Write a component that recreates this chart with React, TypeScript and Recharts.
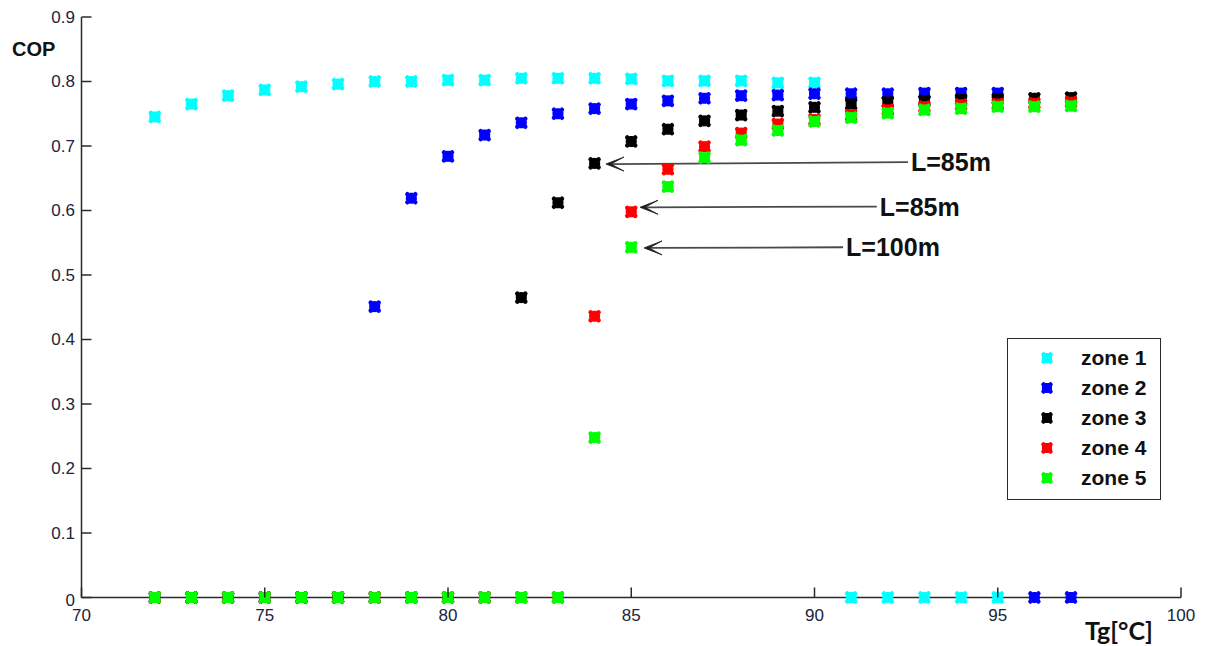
import React from 'react'
import { ScatterChart, Scatter, XAxis, YAxis, ReferenceLine, Legend } from 'recharts'

// Tg [°C] sampled every degree
const tg = [72, 73, 74, 75, 76, 77, 78, 79, 80, 81, 82, 83, 84, 85, 86, 87, 88, 89, 90, 91, 92, 93, 94, 95, 96, 97]

// COP per zone (0 = no operating point)
const zone1Cop = [0.745, 0.765, 0.778, 0.787, 0.792, 0.796, 0.8, 0.8, 0.802, 0.802, 0.805, 0.805, 0.805, 0.804, 0.801, 0.801, 0.801, 0.798, 0.798, 0, 0, 0, 0, 0]
const zone2Cop = [0, 0, 0, 0, 0, 0, 0.451, 0.619, 0.684, 0.717, 0.736, 0.75, 0.758, 0.765, 0.77, 0.774, 0.778, 0.779, 0.781, 0.781, 0.781, 0.782, 0.782, 0.782, 0, 0]
const zone3Cop = [0, 0, 0, 0, 0, 0, 0, 0, 0, 0, 0.465, 0.612, 0.673, 0.707, 0.726, 0.739, 0.748, 0.754, 0.76, 0.765, 0.768, 0.77, 0.772, 0.773, 0.774, 0.775]
const zone4Cop = [0, 0, 0, 0, 0, 0, 0, 0, 0, 0, 0, 0, 0.436, 0.598, 0.664, 0.699, 0.72, 0.734, 0.741, 0.748, 0.756, 0.761, 0.764, 0.765, 0.766, 0.768]
const zone5Cop = [0, 0, 0, 0, 0, 0, 0, 0, 0, 0, 0, 0, 0.248, 0.543, 0.637, 0.682, 0.709, 0.724, 0.738, 0.744, 0.751, 0.756, 0.758, 0.761, 0.761, 0.762]

const xTicks = [70, 75, 80, 85, 90, 95, 100]
const yTicks = [0, 0.1, 0.2, 0.3, 0.4, 0.5, 0.6, 0.7, 0.8, 0.9]

// arrows from the label back to the first point of each pipe length
const notes = [
  { text: 'L=85m', fromX: 92.55, fromY: 0.675, toX: 84.31, toY: 0.672 },
  { text: 'L=85m', fromX: 91.7, fromY: 0.606, toX: 85.24, toY: 0.605 },
  { text: 'L=100m', fromX: 90.78, fromY: 0.543, toX: 85.35, toY: 0.542 },
]

const zones = [
  { name: 'zone 1', color: '#00ffff', cop: zone1Cop },
  { name: 'zone 2', color: '#0000ff', cop: zone2Cop },
  { name: 'zone 3', color: '#000000', cop: zone3Cop },
  { name: 'zone 4', color: '#ff0000', cop: zone4Cop },
  { name: 'zone 5', color: '#00ff00', cop: zone5Cop },
]

const W = 1205
const H = 646
const PLOT_LEFT = 81.5
const PLOT_BOTTOM = 597.5
const AXIS = '#2a2a2a'
const TICK_TEXT = '#20243a'
const SANS = '"Liberation Sans", Arial, sans-serif'

const toPoints = (cop: number[]) => cop.map((y, i) => ({ x: tg[i], y }))

// thick asterisk, reads as a notched blob at this size
function Star({ cx, cy, color, r = 4 }: { cx: number; cy: number; color: string; r?: number }) {
  return (
    <g>
      <line x1={cx - r} y1={cy - r} x2={cx + r} y2={cy + r} stroke={color} strokeWidth={4.5} strokeLinecap="round" />
      <line x1={cx - r} y1={cy + r} x2={cx + r} y2={cy - r} stroke={color} strokeWidth={4.5} strokeLinecap="round" />
      <line x1={cx - r - 1.5} y1={cy} x2={cx + r + 1.5} y2={cy} stroke={color} strokeWidth={4} />
      <line x1={cx} y1={cy - r - 1.5} x2={cx} y2={cy + r + 1.5} stroke={color} strokeWidth={4} />
    </g>
  )
}

function YTick({ y, payload }: any) {
  return (
    <g>
      <line x1={PLOT_LEFT} x2={PLOT_LEFT + 10} y1={y} y2={y} stroke={AXIS} strokeWidth={1.5} />
      <text x={75} y={payload.value === 0 ? y + 3 : y} textAnchor="end" dominantBaseline="central"
        fontFamily={SANS} fontSize={17} fill={TICK_TEXT}>
        {String(payload.value)}
      </text>
    </g>
  )
}

function XTick({ x, payload }: any) {
  return (
    <g>
      <line x1={x} x2={x} y1={PLOT_BOTTOM} y2={PLOT_BOTTOM - 10} stroke={AXIS} strokeWidth={1.5} />
      <text x={x} y={PLOT_BOTTOM + 18} textAnchor="middle" dominantBaseline="central"
        fontFamily={SANS} fontSize={17} fill={TICK_TEXT}>
        {payload.value}
      </text>
    </g>
  )
}

function NoteArrow({ x1, y1, x2, y2, text }: any) {
  const head = `M${x2},${y2} L${x2 + 18},${y2 - 7} L${x2 + 5},${y2} L${x2 + 18},${y2 + 7} Z`
  return (
    <g>
      <line x1={x1} y1={y1} x2={x2 + 6} y2={y2} stroke="#4a4a4a" strokeWidth={1.8} />
      <path d={head} fill="#1a1a1a" stroke="#1a1a1a" strokeWidth={0.8} strokeLinejoin="round" />
      <text x={x1 + 3} y={y1} dominantBaseline="central" fontFamily={SANS} fontWeight="bold"
        fontSize={25} fill="#111">
        {text}
      </text>
    </g>
  )
}

function ZoneLegend({ payload }: any) {
  return (
    <div style={{ width: 152, height: 156, border: `1.5px solid ${AXIS}`, background: '#fff', paddingTop: 4, boxSizing: 'content-box' }}>
      {(payload || []).map((item: any) => (
        <div key={item.value} style={{ height: 30, display: 'flex', alignItems: 'center' }}>
          <svg width={73} height={30} style={{ flex: 'none' }}>
            <Star cx={39} cy={15} color={item.color} r={3.5} />
          </svg>
          <span style={{ fontFamily: SANS, fontWeight: 'bold', fontSize: 21, color: '#111' }}>{item.value}</span>
        </div>
      ))}
    </div>
  )
}

export default function App() {
  return (
    <div style={{ position: 'absolute', left: 0, top: 0, background: '#fff' }}>
      <ScatterChart width={W} height={H} margin={{ top: 17, right: 24, bottom: 0, left: 0 }}>
        <XAxis
          type="number"
          dataKey="x"
          domain={[70, 100]}
          ticks={xTicks}
          height={H - PLOT_BOTTOM}
          axisLine={{ stroke: AXIS, strokeWidth: 1.5 }}
          tickLine={false}
          tick={XTick}
          interval={0}
          label={() => (
            <text x={1085} y={630} dominantBaseline="central" fontFamily="Lato, sans-serif"
              fontWeight="bold" fontSize={25} fill="#111">
              Tg[°C]
            </text>
          )}
        />
        <YAxis
          type="number"
          dataKey="y"
          domain={[0, 0.9]}
          ticks={yTicks}
          width={PLOT_LEFT}
          axisLine={{ stroke: AXIS, strokeWidth: 1.5 }}
          tickLine={false}
          tick={YTick}
          interval={0}
          label={() => (
            <text x={12} y={49} dominantBaseline="central" fontFamily={SANS} fontWeight="bold"
              fontSize={20} fill="#111">
              COP
            </text>
          )}
        />
        {zones.map((z) => (
          <Scatter
            key={z.name}
            name={z.name}
            data={toPoints(z.cop)}
            fill={z.color}
            isAnimationActive={false}
            shape={(p: any) => <Star cx={p.cx} cy={p.cy} color={z.color} />}
          />
        ))}
        {notes.map((n, i) => (
          <ReferenceLine
            key={i}
            segment={[{ x: n.fromX, y: n.fromY }, { x: n.toX, y: n.toY }]}
            shape={(p: any) => <NoteArrow {...p} text={n.text} />}
          />
        ))}
        <Legend
          layout="vertical"
          align="center"
          verticalAlign="middle"
          content={ZoneLegend}
          wrapperStyle={{ left: 1007, top: 338, width: 'auto', height: 'auto' }}
        />
      </ScatterChart>
    </div>
  )
}
